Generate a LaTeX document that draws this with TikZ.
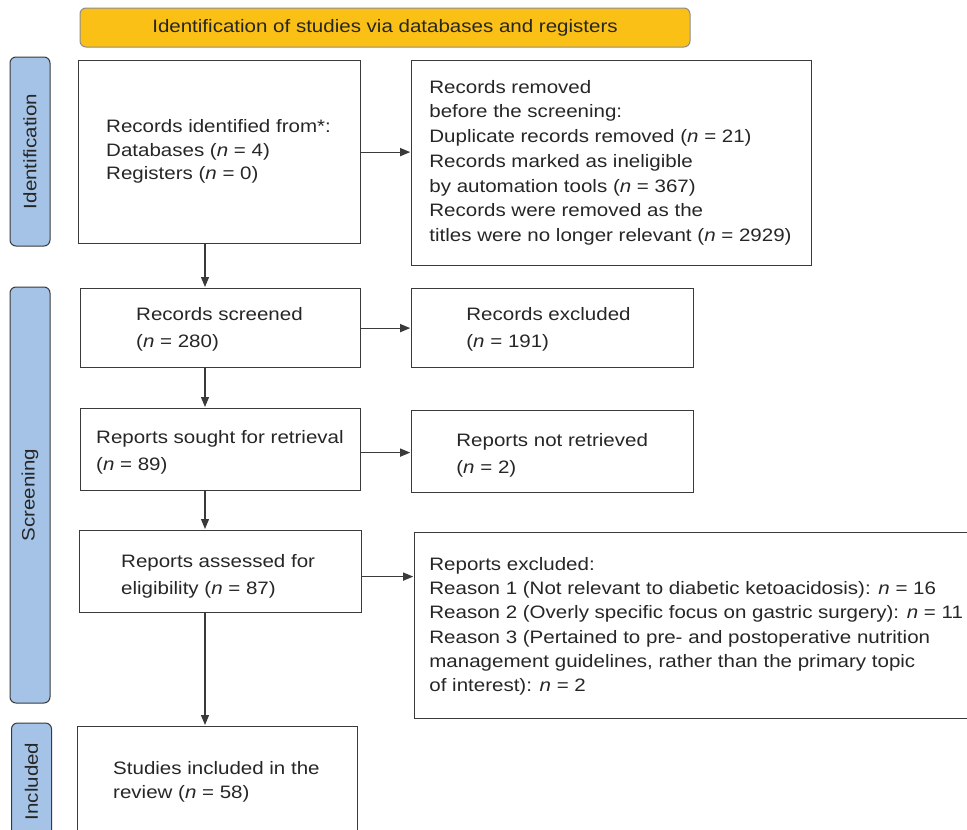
\documentclass[tikz,border=0pt]{standalone}
\usepackage{fontspec}
\setmainfont{Liberation Sans}[FakeStretch=1.14]
\usetikzlibrary{arrows.meta,positioning}
\definecolor{bannerfill}{HTML}{FBC015}
\definecolor{phasefill}{HTML}{A4C3E7}
\definecolor{edgegrey}{HTML}{3A3A3A}
\tikzset{
    %Define standard arrow tip
    >={Triangle[length=10pt,width=8pt]},
    %Define style for boxes
    box/.style={
           rectangle,
           draw=edgegrey, line width=1.2pt,
           anchor=north west,
           inner sep=0pt},
    txt/.style={
           inner sep=0pt,
           anchor=north west,
           align=left,
           text=black!85,
           font=\fontsize{18}{#1}\selectfont},
    txt/.default=25,
    phase/.style={
           rectangle,
           rounded corners=6pt,
           draw=edgegrey, line width=1pt,
           fill=phasefill,
           rotate=90,
           minimum height=40pt,
           text=black!85,
           font=\fontsize{18}{22}\selectfont},
    banner/.style={
           rectangle,
           rounded corners=6pt,
           draw=black!45, line width=1pt,
           fill=bannerfill,
           text=black!85,
           font=\fontsize{18}{22}\selectfont},
    % Define arrow style
    pil/.style={
           ->,
           line width=1.2pt,
           draw=edgegrey,
           shorten >=1pt}
}
\begin{document}
\begin{tikzpicture}[x=1pt,y=-1pt]
\useasboundingbox (0,0) rectangle (967,830);
 %banner and phases
\node[banner, minimum width=610pt, minimum height=39pt] (0) at (385,27.5) {Identification of studies via databases and registers};
\node[phase, minimum width=189pt] (p1) at (30,151.5) {Identification};
\node[phase, minimum width=416pt] (p2) at (30,495) {Screening};
\node[phase, minimum width=117pt] (p3) at (31.5,781.5) {Included};
 %boxes
\node[box, minimum width=282pt, minimum height=183pt] (1) at (78,60) {};
\node[box, right=50pt of 1.north east, anchor=north west, minimum width=400pt, minimum height=205pt] (2) {};
\node[box, minimum width=280pt, minimum height=79pt] (3) at (80,288) {};
\node[box, right=50pt of 3.north east, anchor=north west, minimum width=282pt, minimum height=79pt] (4) {};
\node[box, minimum width=280pt, minimum height=82pt] (5) at (80,408) {};
\node[box, right=50pt of 5.north east, anchor=north west, yshift=-2pt, minimum width=282pt, minimum height=82pt] (6) {};
\node[box, minimum width=282pt, minimum height=82pt] (7) at (79,530) {};
\node[box, right=52pt of 7.north east, anchor=north west, yshift=-2pt, minimum width=572pt, minimum height=186pt] (8) {};
\node[box, minimum width=280pt, minimum height=134pt] (9) at (77,726) {};
 %texts
\node[txt=23.3] (t1) at ([xshift=28pt,yshift=-59.7pt]1.north west) {Records identified from*:\\Databases (\textit{n} = 4)\\Registers (\textit{n} = 0)};
\node[txt=24.7] (t2) at ([xshift=18pt,yshift=-20pt]2.north west) {Records removed\\before the screening:\\Duplicate records removed (\textit{n} = 21)\\Records marked as ineligible\\by automation tools (\textit{n} = 367)\\Records were removed as the\\titles were no longer relevant (\textit{n} = 2929)};
\node[txt=27] (t3) at ([xshift=56pt,yshift=-19pt]3.north west) {Records screened\\(\textit{n} = 280)};
\node[txt=27] (t4) at ([xshift=55pt,yshift=-19pt]4.north west) {Records excluded\\(\textit{n} = 191)};
\node[txt=27] (t5) at ([xshift=16pt,yshift=-22pt]5.north west) {Reports sought for retrieval\\(\textit{n} = 89)};
\node[txt=27] (t6) at ([xshift=45pt,yshift=-23pt]6.north west) {Reports not retrieved\\(\textit{n} = 2)};
\node[txt=27.3] (t7) at ([xshift=42pt,yshift=-24pt]7.north west) {Reports assessed for\\eligibility (\textit{n} = 87)};
\node[txt=24.3] (t8) at ([xshift=15pt,yshift=-25pt]8.north west) {Reports excluded:\\Reason 1 (Not relevant to diabetic ketoacidosis): \textit{n} = 16\\Reason 2 (Overly specific focus on gastric surgery): \textit{n} = 11\\Reason 3 (Pertained to pre- and postoperative nutrition\\management guidelines, rather than the primary topic\\of interest): \textit{n} = 2};
\node[txt=24.3] (t9) at ([xshift=36pt,yshift=-35pt]9.north west) {Studies included in the\\review (\textit{n} = 58)};
 %arrows
\coordinate (spine) at (205,0);
\coordinate (a5) at ([yshift=-3pt]5.east);
\coordinate (a7) at ([yshift=-5pt]7.east);
\draw[pil] (1.south -| spine) -- (3.north -| spine);
\draw[pil] (3.south -| spine) -- (5.north -| spine);
\draw[pil] (5.south -| spine) -- (7.north -| spine);
\draw[pil] (7.south -| spine) -- (9.north -| spine);
\draw[pil] (1.east) -- (2.west |- 1.east);
\draw[pil] (3.east) -- (4.west |- 3.east);
\draw[pil] (a5) -- (a5 -| 6.west);
\draw[pil] (a7) -- (a7 -| 8.west);
\end{tikzpicture}
\end{document}
